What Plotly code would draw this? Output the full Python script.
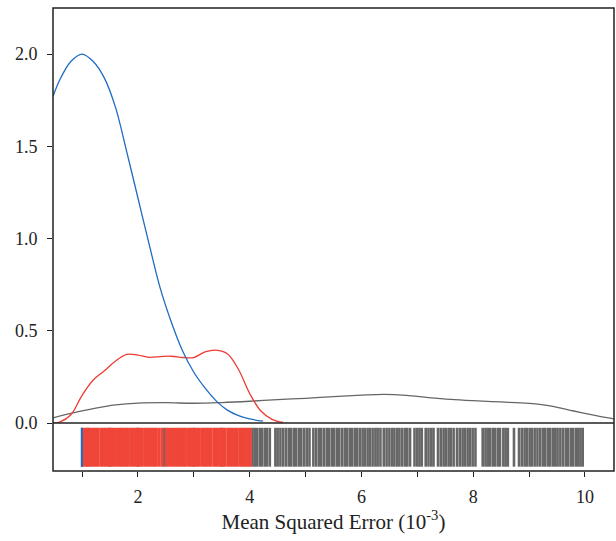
import plotly.graph_objects as go

# ---- KDE curves ----
blue_x = [0.48, 0.6, 0.8, 1.0, 1.2, 1.4, 1.6, 1.8, 2.0, 2.2, 2.4, 2.6, 2.8, 3.0, 3.2, 3.4, 3.6, 3.8, 4.0, 4.24]
blue_y = [1.77, 1.86, 1.96, 2.00, 1.96, 1.87, 1.71, 1.47, 1.22, 0.97, 0.73, 0.545, 0.39, 0.275, 0.19, 0.12, 0.07, 0.04, 0.022, 0.01]

red_x = [0.48, 0.6, 0.8, 1.0, 1.2, 1.4, 1.6, 1.8, 2.0, 2.2, 2.4, 2.6, 2.8, 3.0, 3.2, 3.4, 3.6, 3.8, 4.0, 4.2, 4.4, 4.6]
red_y = [0.0, 0.005, 0.045, 0.15, 0.233, 0.283, 0.336, 0.372, 0.368, 0.356, 0.360, 0.362, 0.355, 0.355, 0.385, 0.395, 0.375, 0.29, 0.16, 0.065, 0.02, 0.003]

gray_x = [0.48, 0.8, 1.2, 1.6, 2.0, 2.5, 3.0, 3.5, 4.0, 4.5, 5.0, 5.5, 6.0, 6.4, 6.8, 7.2, 7.6, 8.0, 8.5, 9.0, 9.4, 9.8, 10.2, 10.52]
gray_y = [0.028, 0.052, 0.078, 0.098, 0.108, 0.110, 0.107, 0.111, 0.118, 0.127, 0.134, 0.143, 0.151, 0.155, 0.150, 0.138, 0.128, 0.121, 0.114, 0.106, 0.092, 0.065, 0.040, 0.022]

# ---- rug values ----
blue_rug = [0.99, 1.0]
red_rug = [1.01, 1.05, 1.09, 1.13, 1.17, 1.21, 1.25, 1.29, 1.34, 1.38, 1.42, 1.46, 1.5, 1.54, 1.58,
           1.63, 1.67, 1.71, 1.75, 1.79, 1.83, 1.88, 1.92, 1.96, 2.0, 2.04, 2.08, 2.13, 2.17, 2.21,
           2.25, 2.29, 2.33, 2.38, 2.43, 2.51, 2.55, 2.6, 2.64, 2.69, 2.73, 2.77, 2.81, 2.85, 2.9,
           2.94, 2.98, 3.02, 3.06, 3.1, 3.15, 3.19, 3.23, 3.27, 3.31, 3.36, 3.4, 3.44, 3.48, 3.52,
           3.56, 3.61, 3.65, 3.69, 3.73, 3.77, 3.82, 3.86, 3.9, 3.94, 3.98, 4.01]
gray_rug = [1.1, 1.5, 2.0, 2.47, 3.0, 3.5,
            4.05, 4.09, 4.13, 4.18, 4.22, 4.27, 4.31, 4.36,
            4.46, 4.50, 4.55, 4.60, 4.65, 4.70, 4.74, 4.79, 4.83, 4.88, 4.92, 4.97, 5.02, 5.07,
            5.14, 5.19, 5.24, 5.28, 5.33, 5.38, 5.42, 5.47, 5.51, 5.56, 5.60, 5.65, 5.70, 5.74,
            5.79, 5.83, 5.88, 5.92, 5.97, 6.02, 6.06, 6.11, 6.15, 6.20, 6.25, 6.29, 6.34,
            6.40, 6.45, 6.50, 6.55, 6.59, 6.64, 6.68, 6.73, 6.78, 6.82, 6.87,
            6.95, 7.00, 7.04, 7.08,
            7.15, 7.20, 7.25, 7.29,
            7.37, 7.42, 7.47, 7.51, 7.56, 7.60, 7.65,
            7.71, 7.76, 7.81, 7.85, 7.90, 7.94, 7.99, 8.04,
            8.17, 8.22, 8.26, 8.30,
            8.35, 8.39, 8.44, 8.48,
            8.54, 8.58, 8.62,
            8.73,
            8.82, 8.87, 8.92, 8.96, 9.01, 9.05, 9.10,
            9.15, 9.20, 9.25, 9.29, 9.34, 9.38, 9.43, 9.47, 9.51,
            9.56, 9.61, 9.66, 9.70, 9.75, 9.79,
            9.84, 9.88, 9.92, 9.96]

x_tickvals = [1, 2, 3, 4, 5, 6, 7, 8, 9, 10]
x_ticktext = ["", "2", "", "4", "", "6", "", "8", "", "10"]
y_tickvals = [0.0, 0.5, 1.0, 1.5, 2.0]

BLUE = "#1f6cc0"
RED = "#ee3b33"
GRAY = "#666666"
RUG_RED = "#ef4639"
RUG_GRAY = "#676767"


def rug_xy(vals):
    xs, ys = [], []
    for v in vals:
        xs += [v, v, None]
        ys += [0.09, 0.9, None]
    return xs, ys


fig = go.Figure()

for vals, col, w in [(gray_rug, RUG_GRAY, 2.6), (red_rug, RUG_RED, 3), (blue_rug, BLUE, 1.5)]:
    rx, ry = rug_xy(vals)
    fig.add_trace(go.Scatter(x=rx, y=ry, mode="lines", line=dict(color=col, width=w),
                             xaxis="x", yaxis="y2", showlegend=False, hoverinfo="skip"))

for xs, ys, col in [(gray_x, gray_y, GRAY), (red_x, red_y, RED), (blue_x, blue_y, BLUE)]:
    fig.add_trace(go.Scatter(x=xs, y=ys, mode="lines", line=dict(color=col, width=1.3, shape="spline"),
                             xaxis="x", yaxis="y", showlegend=False))

split = 48 / 463
font = dict(family="Liberation Serif, Times New Roman, serif", size=18, color="#222222")

fig.update_layout(
    width=616, height=541,
    margin=dict(l=53, r=2, t=8, b=70, autoexpand=False),
    paper_bgcolor="white", plot_bgcolor="white",
    font=font,
    xaxis=dict(range=[0.48, 10.52], anchor="y2", tickvals=x_tickvals, ticktext=x_ticktext,
               ticks="outside", ticklen=5, tickwidth=1, tickcolor="#222", showgrid=False,
               zeroline=False, showline=False, ticklabelstandoff=4, automargin=False,
               title=dict(text="Mean Squared Error (10<sup>-3</sup>)", font=dict(size=21), standoff=8)),
    yaxis=dict(domain=[split, 1], range=[0, 2.25], tickvals=y_tickvals, tickformat=".1f",
               ticks="outside", ticklen=5, tickwidth=1, tickcolor="#222", showgrid=False,
               zeroline=False, showline=False, ticklabelstandoff=6, automargin=False),
    yaxis2=dict(domain=[0, split], range=[0, 1], showticklabels=False, ticks="", showgrid=False,
                zeroline=False, showline=False, automargin=False),
    shapes=[
        dict(type="rect", xref="paper", yref="paper", x0=0, x1=1, y0=0, y1=1,
             line=dict(color="#222", width=1.5), layer="above"),
        dict(type="line", xref="paper", yref="paper", x0=0, x1=1, y0=split, y1=split,
             line=dict(color="#222", width=1.5), layer="above"),
    ],
)

fig.write_html("out.html", config={"displayModeBar": False},
               post_script="document.body.style.margin='0';document.body.style.overflow='hidden';")
